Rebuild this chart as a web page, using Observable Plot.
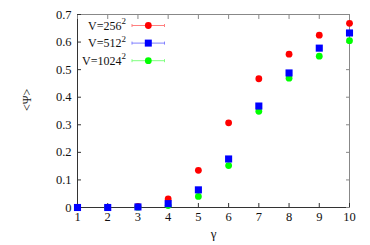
<!DOCTYPE html>
<html><head><meta charset="utf-8">
<script src="https://cdn.jsdelivr.net/npm/d3@7"></script>
<script src="https://cdn.jsdelivr.net/npm/@observablehq/plot@0.6"></script>
<style>body{margin:0;background:#fff}#chart{position:relative;width:370px;height:245px}
#chart svg, #chart svg text{font-family:'Liberation Serif','Times New Roman',serif !important}</style>
</head><body><div id="chart"></div>
<script>
const gammas = [1,2,3,4,5,6,7,8,9,10];
const v256 = [0,0,0.004,0.031,0.135,0.307,0.467,0.556,0.625,0.668];
const v512 = [0,0,0.002,0.014,0.064,0.176,0.368,0.488,0.578,0.633];
const v1024 = [0,0,0.001,0.007,0.040,0.152,0.349,0.469,0.549,0.605];
const err256 = [0,0,0.002,0.004,0.004,0.008,0.005,0.004,0.004,0.004];
const err512 = [0,0,0.001,0.003,0.004,0.006,0.007,0.004,0.004,0.004];
const err1024 = [0,0,0.001,0.002,0.003,0.004,0.004,0.003,0.003,0.003];
const seriesNames = ["256","512","1024"];
const colors = ["#ff0000","#0000ff","#00ff00"];
const barColors = ["#ff8080","#8080ff","#80ff80"];
const symbols = ["circle","square","circle"];
const xTicks = [1,2,3,4,5,6,7,8,9,10];
const yTicks = [0,0.1,0.2,0.3,0.4,0.5,0.6,0.7];

const all = [v256,v512,v1024];
const errs = [err256,err512,err1024];
const rows = [];
all.forEach((vals,s)=>vals.forEach((v,i)=>rows.push({s, g:gammas[i], v, e:errs[s][i]})));
const order = [0,2,1];
const font = "'Liberation Serif', 'Times New Roman', serif";

const marks = [];
marks.push(Plot.frame({anchor:"top", stroke:"#888"}));
marks.push(Plot.frame({anchor:"right", stroke:"#888"}));
marks.push(Plot.frame({anchor:"left", stroke:"#333"}));
marks.push(Plot.frame({anchor:"bottom", stroke:"#333"}));
marks.push(Plot.axisX({anchor:"bottom", ticks:xTicks, tickSize:4, dy:-4, text:null, stroke:"#333", label:null}));
marks.push(Plot.axisX({anchor:"top", ticks:xTicks, tickSize:4, dy:4, text:null, stroke:"#888", label:null}));
marks.push(Plot.axisY({anchor:"left", ticks:yTicks, tickSize:4, dx:4, text:null, stroke:"#333", label:null}));
marks.push(Plot.axisY({anchor:"right", ticks:yTicks, tickSize:4, dx:-4, text:null, stroke:"#888", label:null}));
marks.push(Plot.axisX({anchor:"bottom", ticks:xTicks, tickSize:0, tickPadding:5, fontSize:12.5, tickFormat:d=>String(d), label:null}));
marks.push(Plot.axisY({anchor:"left", ticks:yTicks, tickSize:0, tickPadding:6, fontSize:12.5, tickFormat:d=>d===0?"0":d.toFixed(1), label:null}));
marks.push(Plot.text(["γ"], {frameAnchor:"bottom", dy:30, fontSize:13, fill:"#111"}));
marks.push(Plot.text(["<Ψ>"], {frameAnchor:"left", dx:-50, rotate:-90, fontSize:12, fill:"#111"}));
for (const s of order) {
  const d = rows.filter(r=>r.s===s);
  marks.push(Plot.ruleX(d.filter(r=>r.e>0), {x:"g", y1:r=>r.v-r.e, y2:r=>r.v+r.e, stroke:barColors[s], strokeWidth:1}));
  marks.push(Plot.dot(d, {x:"g", y:"v", symbol:symbols[s], r:symbols[s]==="square"?4:3.4, fill:colors[s], stroke:"none"}));
}

const plot = Plot.plot({
  width:370, height:245,
  marginLeft:77, marginRight:21, marginTop:14, marginBottom:38,
  style:{fontFamily:font, fontSize:"12px", color:"#111", background:"#fff"},
  x:{domain:[1,10], axis:null},
  y:{domain:[0,0.7], axis:null},
  marks
});
document.getElementById("chart").appendChild(plot);

const svg = d3.select(plot);
const lg = svg.append("g").attr("font-size", 12).attr("fill", "#111");
seriesNames.forEach((n,i)=>{
  const cy = 25.5 + i*17.6;
  const t = lg.append("text").attr("x",126).attr("y",cy+4).attr("text-anchor","end");
  t.append("tspan").text("V="+n);
  t.append("tspan").attr("dy",-5.5).attr("font-size",9).text("2");
  lg.append("line").attr("x1",132).attr("x2",164.5).attr("y1",cy).attr("y2",cy).attr("stroke",barColors[i]);
  lg.append("line").attr("x1",132).attr("x2",132).attr("y1",cy-1.5).attr("y2",cy+1.5).attr("stroke",barColors[i]);
  lg.append("line").attr("x1",164.5).attr("x2",164.5).attr("y1",cy-1.5).attr("y2",cy+1.5).attr("stroke",barColors[i]);
  if (symbols[i]==="square") lg.append("rect").attr("x",148.3-3.5).attr("y",cy-3.5).attr("width",7).attr("height",7).attr("fill",colors[i]);
  else lg.append("circle").attr("cx",148.3).attr("cy",cy).attr("r",3.4).attr("fill",colors[i]);
});
svg.selectAll("text").style("font-family", "'Liberation Serif'");
</script></body></html>
